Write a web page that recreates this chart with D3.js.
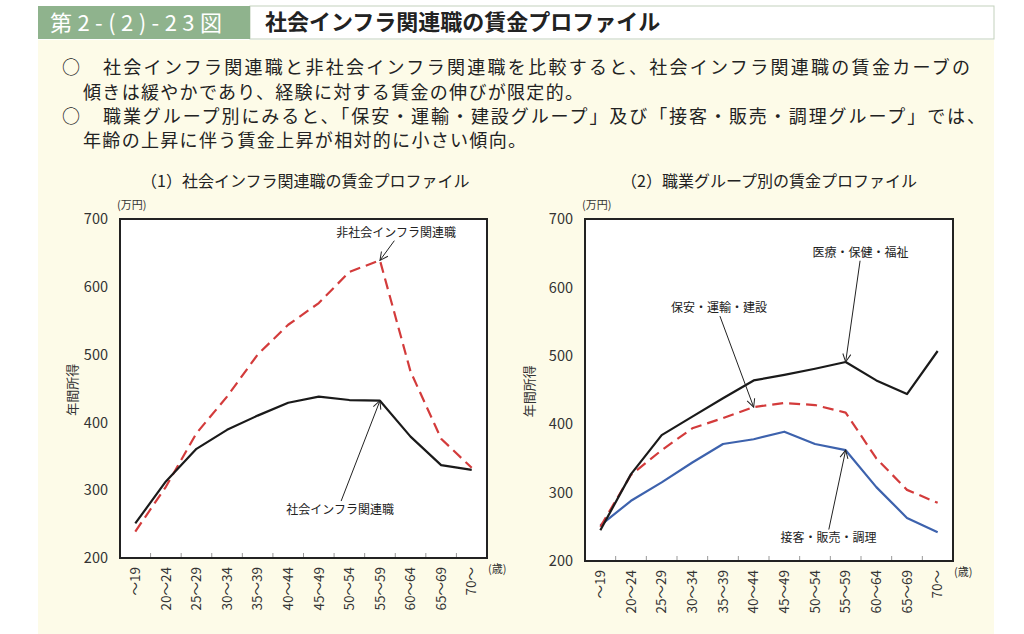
<!DOCTYPE html>
<html>
<head>
<meta charset="utf-8">
<script src="https://cdn.jsdelivr.net/npm/d3@7"></script>
<style>
  body { margin: 0; background: #fff; }
  svg text { font-family: "Noto Sans CJK JP", "Noto Sans", sans-serif; }
</style>
</head>
<body>
<div id="chart"></div>
<script>
// age groups (x categories)
var ages = ["～19", "20～24", "25～29", "30～34", "35～39", "40～44",
            "45～49", "50～54", "55～59", "60～64", "65～69", "70～"];
var yTicks = [200, 300, 400, 500, 600, 700];

// panel 1: 社会インフラ関連職 vs 非社会インフラ関連職 (万円)
var infraWage    = [251, 313, 361, 389, 410, 429, 438, 433, 432, 379, 337, 330];
var nonInfraWage = [239, 305, 384, 438, 500, 544, 576, 622, 639, 475, 376, 333];

// panel 2: 職業グループ別 (万円)
var medicalWage  = [245, 327, 384, 411, 438, 464, 472, 481, 491, 464, 444, 507];
var securityWage = [250, 326, 362, 394, 409, 425, 431, 428, 417, 350, 304, 285];
var serviceWage  = [252, 288, 315, 344, 371, 378, 389, 371, 362, 308, 263, 242];

// annotation: label position (age index, value), arrow start, arrow target
var notes1 = [
    {text: "非社会インフラ関連職", lx: 8.53, ly: 680, sx: 8.47, sy: 668, tx: 8, ty: 639},
    {text: "社会インフラ関連職",   lx: 6.7,  ly: 271, sx: 6.73, sy: 284, tx: 8, ty: 432}
];
var notes2 = [
    {text: "医療・保健・福祉", lx: 8.48, ly: 650, sx: 8.47, sy: 639, tx: 8, ty: 491},
    {text: "保安・運輸・建設", lx: 3.87, ly: 570, sx: 3.9,  sy: 558, tx: 5, ty: 425},
    {text: "接客・販売・調理", lx: 7.44, ly: 234, sx: 7.45, sy: 246, tx: 8, ty: 362}
];

var W = 1024, H = 634;
var svg = d3.select("#chart").append("svg")
    .attr("width", W)
    .attr("height", H);

var defs = svg.append("defs");
defs.append("marker")
    .attr("id", "arrow")
    .attr("viewBox", "0 0 10 10")
    .attr("refX", 9).attr("refY", 5)
    .attr("markerWidth", 10).attr("markerHeight", 10)
    .attr("markerUnits", "userSpaceOnUse")
    .attr("orient", "auto")
  .append("path")
    .attr("d", "M1,1 L9,5 L1,9")
    .attr("fill", "none")
    .attr("stroke", "#222")
    .attr("stroke-width", 1);

// header
svg.append("rect")
    .attr("x", 250).attr("y", 6).attr("width", 744).attr("height", 33)
    .attr("fill", "#fff").attr("stroke", "#c3d1bd");
svg.append("rect")
    .attr("x", 38).attr("y", 6).attr("width", 212).attr("height", 33)
    .attr("fill", "#8fb38d");
svg.append("text")
    .attr("x", 50).attr("y", 31)
    .attr("fill", "#fff")
    .attr("font-size", 22)
    .attr("textLength", 172)
    .attr("lengthAdjust", "spacing")
    .text("第2-(2)-23図");
svg.append("text")
    .attr("x", 265).attr("y", 30)
    .attr("fill", "#222")
    .attr("font-size", 22)
    .attr("font-weight", "bold")
    .text("社会インフラ関連職の賃金プロファイル");

// cream body
svg.append("rect")
    .attr("x", 38).attr("y", 40).attr("width", 956).attr("height", H - 40)
    .attr("fill", "#fdfbe8");

var bullets = [
    {mark: true,  x: 103, y: 74,  w: 867, t: "社会インフラ関連職と非社会インフラ関連職を比較すると、社会インフラ関連職の賃金カーブの"},
    {mark: false, x: 83,  y: 98.5, w: 500, t: "傾きは緩やかであり、経験に対する賃金の伸びが限定的。"},
    {mark: true,  x: 103, y: 123, w: 882, t: "職業グループ別にみると、「保安・運輸・建設グループ」及び「接客・販売・調理グループ」では、"},
    {mark: false, x: 83,  y: 147, w: 443, t: "年齢の上昇に伴う賃金上昇が相対的に小さい傾向。"}
];
bullets.forEach(function(b) {
    if (b.mark) {
        svg.append("text")
            .attr("x", 62).attr("y", b.y)
            .attr("font-size", 18).attr("fill", "#222")
            .text("○");
    }
    svg.append("text")
        .attr("x", b.x).attr("y", b.y)
        .attr("font-size", 18).attr("fill", "#222")
        .attr("textLength", b.w)
        .attr("lengthAdjust", "spacing")
        .text(b.t);
});

function drawPanel(p) {
    var x = d3.scaleBand()
        .domain(ages)
        .range([p.left, p.right])
        .paddingInner(0).paddingOuter(0);
    var cx = function(d) { return x(d) + x.bandwidth() / 2; };
    var xi = d3.scaleLinear()
        .domain([0, ages.length - 1])
        .range([cx(ages[0]), cx(ages[ages.length - 1])]);
    var y = d3.scaleLinear()
        .domain([200, 700])
        .range([p.bottom, p.top]);

    var g = svg.append("g");

    g.append("text")
        .attr("x", p.titleX).attr("y", 187)
        .attr("font-size", 16).attr("fill", "#222")
        .text(p.title);

    g.append("rect")
        .attr("x", p.left).attr("y", p.top)
        .attr("width", p.right - p.left).attr("height", p.bottom - p.top)
        .attr("fill", "#fff");

    // y axis labels
    var yAxis = d3.axisLeft(y).tickValues(yTicks).tickSize(0).tickPadding(12);
    var ya = g.append("g")
        .attr("transform", "translate(" + p.left + ",0)")
        .call(yAxis);
    ya.select(".domain").remove();
    ya.selectAll("text")
        .attr("font-family", "DejaVu Sans, sans-serif")
        .attr("font-size", 14.5).attr("fill", "#333");

    // x axis: inner ticks at category boundaries, labels rotated
    var bounds = ages.slice(1).map(function(d) { return x(d); });
    g.selectAll(".xtick")
        .data(bounds).enter().append("line")
        .attr("x1", function(d) { return d; })
        .attr("x2", function(d) { return d; })
        .attr("y1", p.bottom).attr("y2", p.bottom - 5)
        .attr("stroke", "#999").attr("stroke-width", 1);
    g.selectAll(".xlab")
        .data(ages).enter().append("text")
        .attr("transform", function(d) {
            return "translate(" + cx(d) + "," + (p.bottom + 9) + ") rotate(-90)";
        })
        .attr("text-anchor", "end")
        .attr("dy", "0.35em")
        .attr("font-family", "DejaVu Sans, sans-serif")
        .attr("font-size", 13.5).attr("fill", "#333")
        .text(function(d) { return d; });

    g.append("text")
        .attr("x", p.left - 3).attr("y", p.top - 10)
        .attr("font-size", 11).attr("fill", "#333")
        .text("(万円)");
    g.append("text")
        .attr("x", p.right + 1).attr("y", p.bottom + 15)
        .attr("font-size", 11).attr("fill", "#333")
        .text("(歳)");
    g.append("text")
        .attr("transform", "translate(" + p.labelX + "," + y(448) + ") rotate(-90)")
        .attr("text-anchor", "middle")
        .attr("dy", "0.35em")
        .attr("font-size", 13).attr("fill", "#333")
        .text("年間所得");

    var line = d3.line()
        .x(function(d, i) { return cx(ages[i]); })
        .y(function(d) { return y(d); });

    p.series.forEach(function(s) {
        g.append("path")
            .datum(s.values)
            .attr("d", line)
            .attr("fill", "none")
            .attr("stroke", s.color)
            .attr("stroke-width", 2.2)
            .attr("stroke-linejoin", "round")
            .attr("stroke-dasharray", s.dash || null);
    });

    // frame on top
    g.append("rect")
        .attr("x", p.left).attr("y", p.top)
        .attr("width", p.right - p.left).attr("height", p.bottom - p.top)
        .attr("fill", "none").attr("stroke", "#222").attr("stroke-width", 2);

    p.notes.forEach(function(n) {
        g.append("line")
            .attr("x1", xi(n.sx)).attr("y1", y(n.sy))
            .attr("x2", xi(n.tx)).attr("y2", y(n.ty))
            .attr("stroke", "#222").attr("stroke-width", 1)
            .attr("marker-end", "url(#arrow)");
        g.append("text")
            .attr("x", xi(n.lx)).attr("y", y(n.ly))
            .attr("dy", "0.35em")
            .attr("text-anchor", "middle")
            .attr("font-size", 12).attr("fill", "#222")
            .text(n.text);
    });
}

drawPanel({
    left: 120, right: 487, top: 219, bottom: 558,
    titleX: 141, labelX: 72,
    title: "（1）社会インフラ関連職の賃金プロファイル",
    series: [
        {values: nonInfraWage, color: "#d33b3b", dash: "11,6"},
        {values: infraWage, color: "#1a1a1a"}
    ],
    notes: notes1
});

drawPanel({
    left: 585, right: 953, top: 219, bottom: 561,
    titleX: 621, labelX: 529,
    title: "（2）職業グループ別の賃金プロファイル",
    series: [
        {values: serviceWage, color: "#3d62ad"},
        {values: securityWage, color: "#d33b3b", dash: "11,6"},
        {values: medicalWage, color: "#1a1a1a"}
    ],
    notes: notes2
});
</script>
</body>
</html>
